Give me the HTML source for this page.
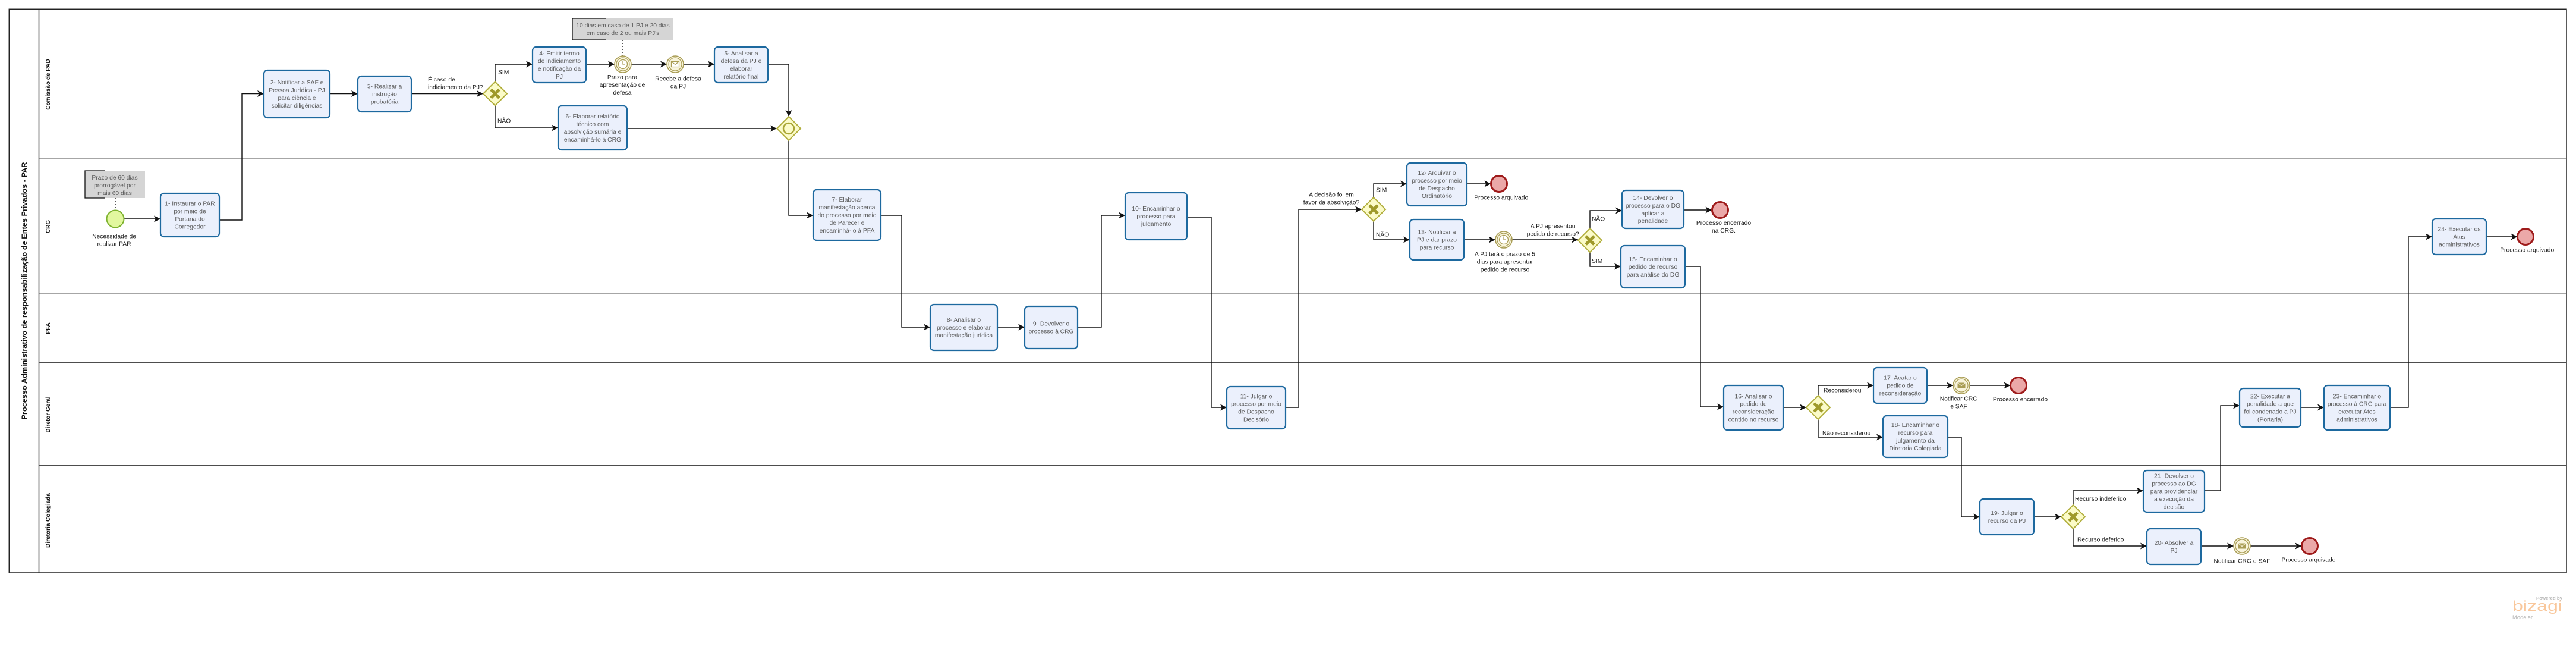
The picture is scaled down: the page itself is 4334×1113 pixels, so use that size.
<!DOCTYPE html>
<html><head><meta charset="utf-8">
<style>
html,body{margin:0;padding:0;background:#fff;width:4334px;height:1113px;overflow:hidden}
svg{display:block}
.t{fill:#ebf0fc;stroke:#1d699f;stroke-width:2.2}
.tx{fill:#5b5b5b;font-size:10.3px;text-anchor:middle}
.lb{fill:#1a1a1a;font-size:10.3px}
.lc{fill:#1a1a1a;font-size:10.3px;text-anchor:middle}
.c{fill:none;stroke:#111;stroke-width:1.4;marker-end:url(#a)}
.g{fill:#fbfbc8;stroke:#b1ae3c;stroke-width:2}
.gx{stroke:#9f9a2a;stroke-width:5;fill:none}
.ie{fill:#f8f4dc;stroke:#a99d55;stroke-width:1.6}
.ii{fill:none;stroke:#a99d55;stroke-width:1.2}
.ee{fill:#eba8a8;stroke:#9e1a1a;stroke-width:3}
.ln{stroke:#4d4d4d;stroke-width:1.5}
.an{fill:#5b5b5b;font-size:10.3px;text-anchor:middle}
.ll{fill:#111;font-size:10px;font-weight:bold;text-anchor:middle}
</style></head>
<body>
<svg width="4334" height="1113" viewBox="0 0 4334 1113" xmlns="http://www.w3.org/2000/svg" font-family="Liberation Sans, Arial, sans-serif">
<defs>
<marker id="a" viewBox="0 0 10 10" refX="10" refY="5" markerWidth="11" markerHeight="11" markerUnits="userSpaceOnUse" orient="auto">
<path d="M0,0 L10,5 L0,10 L2.5,5 z" fill="#111"/>
</marker>
</defs>

<!-- Pool -->
<rect x="15.3" y="15.3" width="4302.7" height="947.7" fill="none" stroke="#222" stroke-width="1.5"/>
<line x1="65.5" y1="15.3" x2="65.5" y2="963" stroke="#222" stroke-width="1.5"/>
<line class="ln" x1="65.5" y1="267.3" x2="4318" y2="267.3"/>
<line class="ln" x1="65.5" y1="494.3" x2="4318" y2="494.3"/>
<line class="ln" x1="65.5" y1="609.3" x2="4318" y2="609.3"/>
<line class="ln" x1="65.5" y1="782.5" x2="4318" y2="782.5"/>

<text transform="translate(45,489) rotate(-90)" text-anchor="middle" font-weight="bold" font-size="12" fill="#111" textLength="433" lengthAdjust="spacingAndGlyphs">Processo Administrativo de responsabilização de Entes Privados - PAR</text>
<text class="ll" transform="translate(84,142) rotate(-90)">Comissão de PAD</text>
<text class="ll" transform="translate(84,381) rotate(-90)">CRG</text>
<text class="ll" transform="translate(84,552) rotate(-90)">PFA</text>
<text class="ll" transform="translate(84,697) rotate(-90)">Diretor Geral</text>
<text class="ll" transform="translate(84,875) rotate(-90)">Diretoria Colegiada</text>

<!-- Annotations -->
<rect x="963" y="31" width="169" height="36" fill="#d5d5d5"/>
<path d="M1020,31 H963 V67 H1020" fill="none" stroke="#111" stroke-width="1.3"/>
<text class="an"><tspan x="1048" y="46">10 dias em caso de 1 PJ e 20 dias</tspan><tspan x="1048" y="59">em caso de 2 ou mais PJ's</tspan></text>
<path d="M1048,67 V94" stroke="#111" stroke-width="1.4" stroke-dasharray="2,3"/>

<rect x="143" y="287" width="101" height="46" fill="#d5d5d5"/>
<path d="M176,287 H143 V333 H176" fill="none" stroke="#111" stroke-width="1.3"/>
<text class="an"><tspan x="193" y="302">Prazo de 60 dias</tspan><tspan x="193" y="315">prorrogável por</tspan><tspan x="193" y="328">mais 60 dias</tspan></text>
<path d="M194,333 V353.5" stroke="#111" stroke-width="1.4" stroke-dasharray="2,3"/>

<!-- Connectors -->
<path class="c" d="M208.5,368 H270"/>
<path class="c" d="M369,370 H407 V157.5 H444"/>
<path class="c" d="M555,157.5 H602"/>
<path class="c" d="M692,157.5 H813"/>
<path class="c" d="M833,137.5 V108 H896"/>
<path class="c" d="M986,108 H1034"/>
<path class="c" d="M1062,108 H1122"/>
<path class="c" d="M1150,108 H1202"/>
<path class="c" d="M1292,108 H1327 V196"/>
<path class="c" d="M833,177.5 V215 H939"/>
<path class="c" d="M1055,216 H1307"/>
<path class="c" d="M1327,236 V362 H1368"/>
<path class="c" d="M1482,362 H1517 V550 H1565"/>
<path class="c" d="M1678,550 H1724"/>
<path class="c" d="M1813,550 H1853 V362 H1893"/>
<path class="c" d="M1997,365 H2038 V685 H2064"/>
<path class="c" d="M2163,685 H2185 V352 H2291"/>
<path class="c" d="M2311,332 V309 H2367"/>
<path class="c" d="M2468,309 H2508.5"/>
<path class="c" d="M2311,372 V403 H2372"/>
<path class="c" d="M2463,403 H2516"/>
<path class="c" d="M2544,403 H2655"/>
<path class="c" d="M2675,384 V354 H2729"/>
<path class="c" d="M2833,353 H2880.5"/>
<path class="c" d="M2675,424 V448 H2727"/>
<path class="c" d="M2835,448 H2861 V684 H2900"/>
<path class="c" d="M3000,685 H3039"/>
<path class="c" d="M3059,665 V648 H3152"/>
<path class="c" d="M3242,648 H3286"/>
<path class="c" d="M3314,648 H3382.5"/>
<path class="c" d="M3059,705 V735 H3168"/>
<path class="c" d="M3277,735 H3300 V869 H3331"/>
<path class="c" d="M3422,869 H3468"/>
<path class="c" d="M3488,849 V825 H3606"/>
<path class="c" d="M3709,825 H3736 V682 H3768"/>
<path class="c" d="M3871,685 H3910"/>
<path class="c" d="M4021,685 H4052 V398 H4092"/>
<path class="c" d="M4183,398 H4235.5"/>
<path class="c" d="M3488,889 V918 H3612"/>
<path class="c" d="M3703,918 H3758"/>
<path class="c" d="M3786,918 H3872.5"/>

<!-- Tasks -->
<rect class="t" x="270" y="325" width="99" height="73" rx="6"/>
<text class="tx"><tspan x="319.5" y="345.7">1- Instaurar o PAR</tspan><tspan x="319.5" y="358.7">por meio de</tspan><tspan x="319.5" y="371.7">Portaria do</tspan><tspan x="319.5" y="384.7">Corregedor</tspan></text>

<rect class="t" x="444" y="118" width="111" height="80" rx="6"/>
<text class="tx"><tspan x="499.5" y="142.2">2- Notificar a SAF e</tspan><tspan x="499.5" y="155.2">Pessoa Jurídica - PJ</tspan><tspan x="499.5" y="168.2">para ciência  e</tspan><tspan x="499.5" y="181.2">solicitar diligências</tspan></text>

<rect class="t" x="602" y="128" width="90" height="60" rx="6"/>
<text class="tx"><tspan x="647" y="148.7">3- Realizar a</tspan><tspan x="647" y="161.7">instrução</tspan><tspan x="647" y="174.7">probatória</tspan></text>

<rect class="t" x="896" y="79" width="90" height="60" rx="6"/>
<text class="tx"><tspan x="941" y="93.2">4- Emitir termo</tspan><tspan x="941" y="106.2">de indiciamento</tspan><tspan x="941" y="119.2">e notificação da</tspan><tspan x="941" y="132.2">PJ</tspan></text>

<rect class="t" x="1202" y="79" width="90" height="60" rx="6"/>
<text class="tx"><tspan x="1247" y="93.2">5- Analisar a</tspan><tspan x="1247" y="106.2">defesa da PJ e</tspan><tspan x="1247" y="119.2">elaborar</tspan><tspan x="1247" y="132.2">relatório final</tspan></text>

<rect class="t" x="939" y="178" width="116" height="74" rx="6"/>
<text class="tx"><tspan x="997" y="199.2">6- Elaborar relatório</tspan><tspan x="997" y="212.2">técnico com</tspan><tspan x="997" y="225.2">absolvição sumária e</tspan><tspan x="997" y="238.2">encaminhá-lo à CRG</tspan></text>

<rect class="t" x="1368" y="319" width="114" height="85" rx="6"/>
<text class="tx"><tspan x="1425" y="339.2">7- Elaborar</tspan><tspan x="1425" y="352.2">manifestação acerca</tspan><tspan x="1425" y="365.2">do processo por meio</tspan><tspan x="1425" y="378.2">de Parecer e</tspan><tspan x="1425" y="391.2">encaminhá-lo à PFA</tspan></text>

<rect class="t" x="1565" y="512" width="113" height="77" rx="6"/>
<text class="tx"><tspan x="1621.5" y="541.2">8- Analisar o</tspan><tspan x="1621.5" y="554.2">processo e elaborar</tspan><tspan x="1621.5" y="567.2">manifestação jurídica</tspan></text>

<rect class="t" x="1724" y="515" width="89" height="71" rx="6"/>
<text class="tx"><tspan x="1768.5" y="547.7">9- Devolver o</tspan><tspan x="1768.5" y="560.7">processo à CRG</tspan></text>

<rect class="t" x="1893" y="324" width="104" height="79" rx="6"/>
<text class="tx"><tspan x="1945" y="354.2">10- Encaminhar o</tspan><tspan x="1945" y="367.2">processo para</tspan><tspan x="1945" y="380.2">julgamento</tspan></text>

<rect class="t" x="2064" y="650" width="99" height="71" rx="6"/>
<text class="tx"><tspan x="2113.5" y="669.7">11- Julgar o</tspan><tspan x="2113.5" y="682.7">processo por meio</tspan><tspan x="2113.5" y="695.7">de Despacho</tspan><tspan x="2113.5" y="708.7">Decisório</tspan></text>

<rect class="t" x="2367" y="274" width="101" height="72" rx="6"/>
<text class="tx"><tspan x="2417.5" y="294.2">12- Arquivar o</tspan><tspan x="2417.5" y="307.2">processo por meio</tspan><tspan x="2417.5" y="320.2">de Despacho</tspan><tspan x="2417.5" y="333.2">Ordinatório</tspan></text>

<rect class="t" x="2372" y="369" width="91" height="68" rx="6"/>
<text class="tx"><tspan x="2417.5" y="393.7">13- Notificar a</tspan><tspan x="2417.5" y="406.7">PJ e dar prazo</tspan><tspan x="2417.5" y="419.7">para recurso</tspan></text>

<rect class="t" x="2729" y="320" width="104" height="64" rx="6"/>
<text class="tx"><tspan x="2781" y="336.2">14- Devolver o</tspan><tspan x="2781" y="349.2">processo para o DG</tspan><tspan x="2781" y="362.2">aplicar a</tspan><tspan x="2781" y="375.2">penalidade</tspan></text>

<rect class="t" x="2727" y="413" width="108" height="71" rx="6"/>
<text class="tx"><tspan x="2781" y="439.2">15- Encaminhar o</tspan><tspan x="2781" y="452.2">pedido de recurso</tspan><tspan x="2781" y="465.2">para análise do DG</tspan></text>

<rect class="t" x="2900" y="648" width="100" height="75" rx="6"/>
<text class="tx"><tspan x="2950" y="669.7">16- Analisar o</tspan><tspan x="2950" y="682.7">pedido de</tspan><tspan x="2950" y="695.7">reconsideração</tspan><tspan x="2950" y="708.7">contido no recurso</tspan></text>

<rect class="t" x="3152" y="618" width="90" height="60" rx="6"/>
<text class="tx"><tspan x="3197" y="638.7">17- Acatar o</tspan><tspan x="3197" y="651.7">pedido de</tspan><tspan x="3197" y="664.7">reconsideração</tspan></text>

<rect class="t" x="3168" y="699" width="109" height="70" rx="6"/>
<text class="tx"><tspan x="3222.5" y="718.2">18- Encaminhar o</tspan><tspan x="3222.5" y="731.2">recurso para</tspan><tspan x="3222.5" y="744.2">julgamento da</tspan><tspan x="3222.5" y="757.2">Diretoria Colegiada</tspan></text>

<rect class="t" x="3331" y="839" width="91" height="60" rx="6"/>
<text class="tx"><tspan x="3376.5" y="866.2">19- Julgar o</tspan><tspan x="3376.5" y="879.2">recurso da PJ</tspan></text>

<rect class="t" x="3612" y="889" width="91" height="60" rx="6"/>
<text class="tx"><tspan x="3657.5" y="916.2">20- Absolver a</tspan><tspan x="3657.5" y="929.2">PJ</tspan></text>

<rect class="t" x="3606" y="791" width="103" height="70" rx="6"/>
<text class="tx"><tspan x="3657.5" y="803.7">21- Devolver o</tspan><tspan x="3657.5" y="816.7">processo ao DG</tspan><tspan x="3657.5" y="829.7">para providenciar</tspan><tspan x="3657.5" y="842.7">a execução da</tspan><tspan x="3657.5" y="855.7">decisão</tspan></text>

<rect class="t" x="3768" y="653" width="103" height="65" rx="6"/>
<text class="tx"><tspan x="3819.5" y="669.7">22- Executar a</tspan><tspan x="3819.5" y="682.7">penalidade a que</tspan><tspan x="3819.5" y="695.7">foi condenado a PJ</tspan><tspan x="3819.5" y="708.7">(Portaria)</tspan></text>

<rect class="t" x="3910" y="648" width="111" height="75" rx="6"/>
<text class="tx"><tspan x="3965.5" y="669.7">23- Encaminhar o</tspan><tspan x="3965.5" y="682.7">processo à CRG para</tspan><tspan x="3965.5" y="695.7">executar Atos</tspan><tspan x="3965.5" y="708.7">administrativos</tspan></text>

<rect class="t" x="4092" y="368" width="91" height="60" rx="6"/>
<text class="tx"><tspan x="4137.5" y="388.7">24- Executar os</tspan><tspan x="4137.5" y="401.7">Atos</tspan><tspan x="4137.5" y="414.7">administrativos</tspan></text>

<!-- Gateways -->
<path class="g" d="M833,137.5 L853,157.5 L833,177.5 L813,157.5 Z"/>
<path class="gx" d="M826,150.5 L840,164.5 M840,150.5 L826,164.5"/>
<path class="g" d="M2311,332 L2331,352 L2311,372 L2291,352 Z"/>
<path class="gx" d="M2304,345 L2318,359 M2318,345 L2304,359"/>
<path class="g" d="M2675,384 L2695,404 L2675,424 L2655,404 Z"/>
<path class="gx" d="M2668,397 L2682,411 M2682,397 L2668,411"/>
<path class="g" d="M3059,665 L3079,685 L3059,705 L3039,685 Z"/>
<path class="gx" d="M3052,678 L3066,692 M3066,678 L3052,692"/>
<path class="g" d="M3488,849 L3508,869 L3488,889 L3468,869 Z"/>
<path class="gx" d="M3481,862 L3495,876 M3495,862 L3481,876"/>
<path class="g" d="M1327,196 L1347,216 L1327,236 L1307,216 Z"/>
<circle cx="1327" cy="216" r="9" fill="none" stroke="#a9a535" stroke-width="2.5"/>

<!-- Start event -->
<circle cx="194" cy="368" r="14.5" fill="#e2f79f" stroke="#7db22e" stroke-width="2"/>

<!-- Intermediate events -->
<circle class="ie" cx="1048" cy="108" r="14"/><circle class="ii" cx="1048" cy="108" r="11"/>
<circle cx="1048" cy="108" r="7.5" fill="#fff" stroke="#a99d55" stroke-width="1.3"/>
<path d="M1048,102.5 V108 H1052" fill="none" stroke="#a99d55" stroke-width="1.3"/>

<circle class="ie" cx="2530" cy="403" r="14"/><circle class="ii" cx="2530" cy="403" r="11"/>
<circle cx="2530" cy="403" r="7.5" fill="#fff" stroke="#a99d55" stroke-width="1.3"/>
<path d="M2530,397.5 V403 H2534" fill="none" stroke="#a99d55" stroke-width="1.3"/>

<circle class="ie" cx="1136" cy="108" r="14"/><circle class="ii" cx="1136" cy="108" r="11"/>
<rect x="1129.5" y="103.5" width="13" height="9" fill="#fff" stroke="#a99d55" stroke-width="1.2"/>
<path d="M1129.5,103.5 L1136,108.5 L1142.5,103.5" fill="none" stroke="#a99d55" stroke-width="1.2"/>

<circle class="ie" cx="3300" cy="648" r="14"/><circle class="ii" cx="3300" cy="648" r="11"/>
<rect x="3293.5" y="643.5" width="13" height="9" fill="#a99d55"/>
<path d="M3293.5,643.5 L3300,648.5 L3306.5,643.5" fill="none" stroke="#f8f4dc" stroke-width="1.2"/>

<circle class="ie" cx="3772" cy="918" r="14"/><circle class="ii" cx="3772" cy="918" r="11"/>
<rect x="3765.5" y="913.5" width="13" height="9" fill="#a99d55"/>
<path d="M3765.5,913.5 L3772,918.5 L3778.5,913.5" fill="none" stroke="#f8f4dc" stroke-width="1.2"/>

<!-- End events -->
<circle class="ee" cx="2522" cy="309" r="13.5"/>
<circle class="ee" cx="2894" cy="353" r="13.5"/>
<circle class="ee" cx="4249" cy="398" r="13.5"/>
<circle class="ee" cx="3396" cy="648" r="13.5"/>
<circle class="ee" cx="3886" cy="918" r="13.5"/>

<!-- Labels -->
<text class="lb" x="720" y="137">É caso de</text>
<text class="lb" x="720" y="150">indiciamento da PJ?</text>
<text class="lb" x="838" y="124.7">SIM</text>
<text class="lb" x="837" y="206.4">NÃO</text>
<text class="lc"><tspan x="1047" y="133">Prazo para</tspan><tspan x="1047" y="146">apresentação de</tspan><tspan x="1047" y="159">defesa</tspan></text>
<text class="lc"><tspan x="1141" y="135.4">Recebe a defesa</tspan><tspan x="1141" y="148.4">da PJ</tspan></text>
<text class="lc"><tspan x="192" y="400.4">Necessidade de</tspan><tspan x="192" y="413.4">realizar PAR</tspan></text>
<text class="lc"><tspan x="2240" y="330.7">A decisão foi em</tspan><tspan x="2240" y="343.7">favor da absolvição?</tspan></text>
<text class="lb" x="2315" y="322.4">SIM</text>
<text class="lb" x="2315" y="397.7">NÃO</text>
<text class="lc" x="2525.7" y="335.7">Processo arquivado</text>
<text class="lc"><tspan x="2532" y="430.4">A PJ terá o prazo de 5</tspan><tspan x="2532" y="443.4">dias para apresentar</tspan><tspan x="2532" y="456.4">pedido de recurso</tspan></text>
<text class="lc"><tspan x="2612.7" y="383.7">A PJ apresentou</tspan><tspan x="2612.7" y="396.7">pedido de recurso?</tspan></text>
<text class="lb" x="2678" y="371.4">NÃO</text>
<text class="lb" x="2678" y="442">SIM</text>
<text class="lc"><tspan x="2900" y="378">Processo encerrado</tspan><tspan x="2900" y="391">na CRG.</tspan></text>
<text class="lb" x="3068" y="659.4">Reconsiderou</text>
<text class="lb" x="3066" y="731.4">Não reconsiderou</text>
<text class="lc"><tspan x="3295.5" y="673.7">Notificar CRG</tspan><tspan x="3295.5" y="686.7">e SAF</tspan></text>
<text class="lc" x="3399" y="674.4">Processo encerrado</text>
<text class="lb" x="3491" y="842">Recurso indeferido</text>
<text class="lb" x="3495" y="910.7">Recurso deferido</text>
<text class="lc" x="3772" y="946.4">Notificar CRG e SAF</text>
<text class="lc" x="3884" y="944.4">Processo arquivado</text>
<text class="lc" x="4251.7" y="423.7">Processo arquivado</text>

<!-- Logo -->
<text x="4311" y="1008" text-anchor="end" font-size="7.5" font-weight="bold" fill="#b8b8b8" textLength="44" lengthAdjust="spacingAndGlyphs">Powered by</text>
<text x="4227" y="1027" font-size="24" fill="#f9c79b" textLength="84" lengthAdjust="spacingAndGlyphs">bizagi</text>
<text x="4227" y="1041" font-size="9" fill="#b0b0b0" textLength="34" lengthAdjust="spacingAndGlyphs">Modeler</text>
</svg>
</body></html>
